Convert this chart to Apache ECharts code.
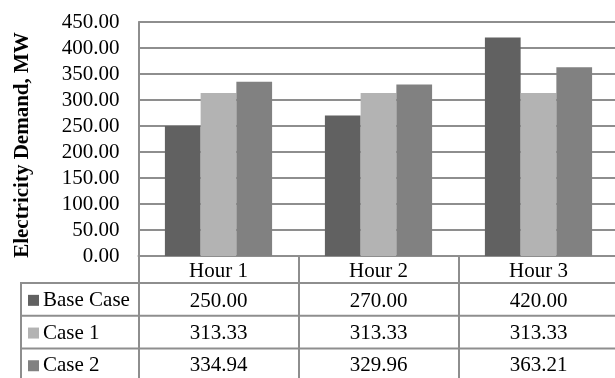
<!DOCTYPE html>
<html>
<head>
<meta charset="utf-8">
<script src="https://cdn.jsdelivr.net/npm/echarts@6/dist/echarts.min.js"></script>
<style>
  html, body { margin: 0; padding: 0; background: #fff; }
  #chart { width: 615px; height: 378px; }
</style>
</head>
<body>
<div id="chart"></div>
<script>
// Hourly electricity demand for three scenarios
const hours = ['Hour 1', 'Hour 2', 'Hour 3'];
const seriesNames = ['Base Case', 'Case 1', 'Case 2'];
const baseCase = [250.00, 270.00, 420.00];
const case1 = [313.33, 313.33, 313.33];
const case2 = [334.94, 329.96, 363.21];
const seriesValues = [baseCase, case1, case2];
const seriesColors = ['#616161', '#b3b3b3', '#818181'];
const yTicks = { min: 0, max: 450, interval: 50 };

const FONT = '"Liberation Serif", "Times New Roman", serif';
const FONT_SIZE = 21;
const LINE = '#8e8e8e';

// Table geometry (pixels): header row under the axis, then one row per series
const TABLE_LEFT = 21;
const ROW_TOP = 283;
const ROW_H = 32.7;

const chart = echarts.init(document.getElementById('chart'), null, { renderer: 'canvas' });

// Each category label doubles as one column of the data table under the plot
function tableColumn(value, index) {
  const rows = [`{h|${value}}`];
  seriesValues.forEach(vals => rows.push(`{v|${vals[index].toFixed(2)}}`));
  return rows.join('\n');
}

// Row headers of the table: colour key plus series name
const rowHeaders = [];
seriesNames.forEach((name, i) => {
  const cy = ROW_TOP + ROW_H * (i + 0.5) + 1;
  rowHeaders.push({
    type: 'rect',
    shape: { x: 28, y: cy - 5.5, width: 11, height: 11 },
    style: { fill: seriesColors[i] }
  });
  rowHeaders.push({
    type: 'text',
    x: 43,
    y: cy,
    style: {
      text: name,
      font: `${FONT_SIZE}px ${FONT}`,
      fill: '#000',
      textAlign: 'left',
      textVerticalAlign: 'middle'
    }
  });
});

// Table frame: legend column box and row separators
const frame = [];
for (let r = 0; r < seriesNames.length; r++) {
  const y = ROW_TOP + ROW_H * r;
  frame.push({ type: 'line', shape: { x1: TABLE_LEFT, y1: y, x2: 620, y2: y }, style: { stroke: LINE, lineWidth: 2 } });
}
frame.push({ type: 'line', shape: { x1: TABLE_LEFT, y1: ROW_TOP - 1, x2: TABLE_LEFT, y2: 382 }, style: { stroke: LINE, lineWidth: 2 } });

const option = {
  backgroundColor: '#ffffff',
  animation: false,
  grid: { left: 138.5, top: 22, width: 480, height: 234, containLabel: false, outerBoundsMode: 'none' },
  xAxis: {
    type: 'category',
    data: hours,
    axisLine: { show: true, lineStyle: { color: LINE, width: 2 } },
    axisTick: { show: true, length: 126, alignWithLabel: false, lineStyle: { color: LINE, width: 2 } },
    axisLabel: {
      margin: 1,
      interval: 0,
      formatter: tableColumn,
      rich: {
        h: { fontFamily: FONT, fontSize: FONT_SIZE, color: '#000', lineHeight: 28, height: 28 },
        v: { fontFamily: FONT, fontSize: FONT_SIZE, color: '#000', lineHeight: 32, height: 32 }
      }
    }
  },
  yAxis: {
    type: 'value',
    min: yTicks.min,
    max: yTicks.max,
    interval: yTicks.interval,
    name: 'Electricity Demand, MW',
    nameLocation: 'middle',
    nameRotate: 90,
    nameGap: 105,
    nameTextStyle: { fontFamily: FONT, fontSize: FONT_SIZE, fontWeight: 'bold', color: '#000', padding: [0, 12, 0, 0] },
    axisLine: { show: true, lineStyle: { color: LINE, width: 2 } },
    axisTick: { show: false },
    axisLabel: {
      margin: 19,
      fontFamily: FONT,
      fontSize: FONT_SIZE,
      color: '#000',
      formatter: v => v.toFixed(2)
    },
    splitLine: { show: true, lineStyle: { color: LINE, width: 2 } }
  },
  series: seriesNames.map((name, i) => ({
    name: name,
    type: 'bar',
    data: seriesValues[i],
    barGap: '0%',
    barCategoryGap: '33%',
    itemStyle: { color: seriesColors[i] }
  })),
  graphic: frame.concat(rowHeaders)
};

chart.setOption(option);
</script>
</body>
</html>
